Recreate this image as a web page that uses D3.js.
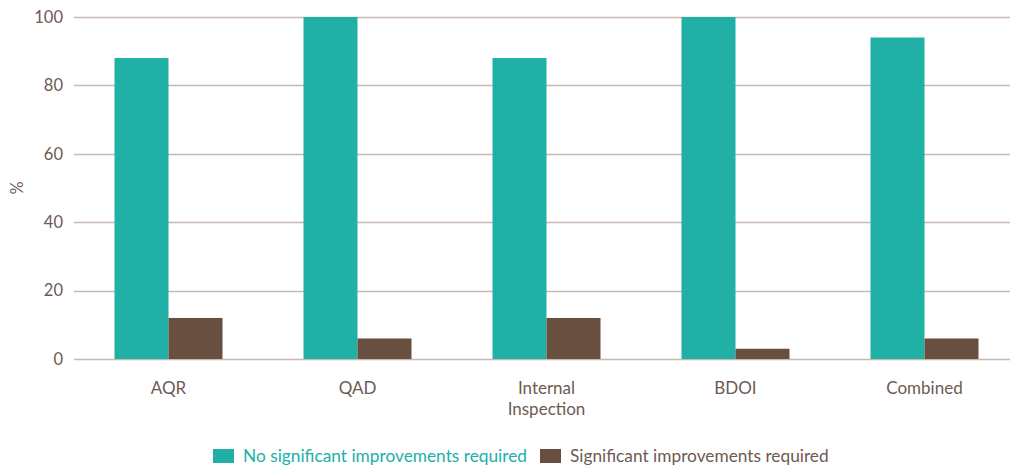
<!DOCTYPE html>
<html>
<head>
<meta charset="utf-8">
<script src="https://cdn.jsdelivr.net/npm/d3@7"></script>
<style>
  html, body { margin: 0; padding: 0; background: #fff; }
  svg { display: block; font-family: "Lato", "Open Sans", sans-serif; }
</style>
</head>
<body>
<svg id="chart" width="1010" height="468"></svg>
<script>
const categories = ["AQR", "QAD", "Internal\nInspection", "BDOI", "Combined"];
const seriesNames = ["No significant improvements required", "Significant improvements required"];
const noSignificant = [88, 100, 88, 100, 94];
const significant = [12, 6, 12, 3, 6];
const yTicks = [0, 20, 40, 60, 80, 100];
const colors = ["#20b0a6", "#684f40"];

const textColor = "#6d5a52";
const gridColor = "#c9b9b1";

const svg = d3.select("#chart");
const plot = { left: 74, right: 1010, top: 17, bottom: 359 };

const x0 = d3.scaleBand().domain(categories).range([plot.left, plot.left + 189 * 5]).paddingInner(0).paddingOuter(0);
const groupW = 108;
const x1 = d3.scaleBand().domain([0, 1]).range([0, groupW]).padding(0);
const y = d3.scaleLinear().domain([0, 100]).range([plot.bottom, plot.top]);

// gridlines
svg.append("g").selectAll("line").data(yTicks).join("line")
  .attr("x1", plot.left).attr("x2", plot.right)
  .attr("y1", d => Math.round(y(d)) + 0.5).attr("y2", d => Math.round(y(d)) + 0.5)
  .attr("stroke", gridColor).attr("stroke-width", 1.5);

// y tick labels
const yAxis = d3.axisLeft(y).tickValues(yTicks).tickSize(0).tickPadding(0);
const ya = svg.append("g").attr("transform", `translate(${plot.left - 11},0)`).call(yAxis);
ya.select(".domain").remove();
ya.selectAll("text").attr("fill", textColor).attr("font-size", 16.5)
  .attr("font-family", "Lato, 'Open Sans', sans-serif");

// y axis title
svg.append("text").attr("transform", "translate(23,188) rotate(-90)")
  .attr("text-anchor", "middle").attr("fill", textColor).attr("font-size", 16.5).text("%");

// bars
const data = categories.map((c, i) => ({ c, v: [noSignificant[i], significant[i]] }));
const groups = svg.append("g").selectAll("g").data(data).join("g")
  .attr("transform", d => `translate(${x0(d.c) + (x0.bandwidth() - groupW) / 2},0)`);
groups.selectAll("rect").data(d => d.v.map((v, k) => ({ v, k }))).join("rect")
  .attr("x", d => x1(d.k)).attr("width", x1.bandwidth())
  .attr("y", d => y(d.v)).attr("height", d => y(0) - y(d.v))
  .attr("fill", d => colors[d.k]);

// category labels
const xl = svg.append("g").selectAll("text").data(categories).join("text")
  .attr("x", d => x0(d) + x0.bandwidth() / 2).attr("y", 394)
  .attr("text-anchor", "middle").attr("fill", textColor).attr("font-size", 17);
xl.each(function(d) {
  const lines = d.split("\n");
  d3.select(this).selectAll("tspan").data(lines).join("tspan")
    .attr("x", x0(d) + x0.bandwidth() / 2).attr("dy", (l, i) => i === 0 ? 0 : 21).text(l => l);
});

// legend
const legendItems = [
  { name: seriesNames[0], color: colors[0], x: 213, textColor: colors[0] },
  { name: seriesNames[1], color: colors[1], x: 540, textColor: textColor }
];
const lg = svg.append("g").selectAll("g").data(legendItems).join("g")
  .attr("transform", d => `translate(${d.x},449)`);
lg.append("rect").attr("width", 21).attr("height", 14).attr("fill", d => d.color);
lg.append("text").attr("x", 30).attr("y", 13).attr("font-size", 17.3)
  .attr("fill", d => d.textColor).text(d => d.name);
</script>
</body>
</html>
